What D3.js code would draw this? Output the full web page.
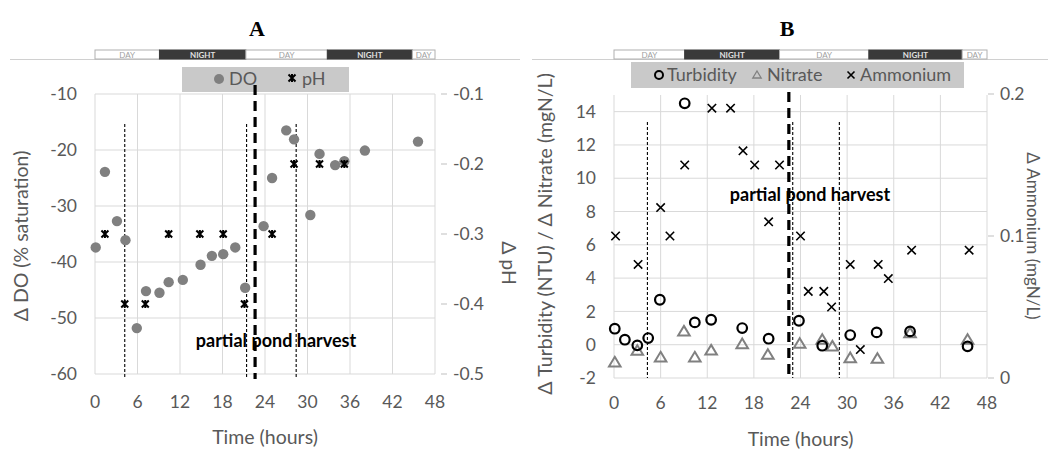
<!DOCTYPE html>
<html>
<head>
<meta charset="utf-8">
<script src="https://cdn.jsdelivr.net/npm/d3@7"></script>
<style>
  body { margin: 0; background: #fff; }
  svg text { font-family: Lato, "Open Sans", sans-serif; fill: #595959; }
</style>
</head>
<body>
<svg id="chart" width="1048" height="450"></svg>
<script>
// ---- data ----
const periodLabels = ['DAY', 'NIGHT', 'DAY', 'NIGHT', 'DAY'];
const periodStart = [0, 9.1, 21.3, 32.8, 44.8];
const periodEnd = [9.1, 21.3, 32.8, 44.8, 48];

const timeTicks = [0, 6, 12, 18, 24, 30, 36, 42, 48];

// panel A
const doTime = [0.1, 1.4, 3.1, 4.3, 5.9, 7.2, 9.1, 10.4, 12.4, 14.9, 16.5, 18.1, 19.8, 21.2, 23.8, 25.0, 27.0, 28.1, 30.4, 31.7, 33.9, 35.2, 38.1, 45.6];
const doValue = [-37.4, -23.9, -32.7, -36.1, -51.8, -45.2, -45.5, -43.6, -43.2, -40.5, -38.9, -38.6, -37.4, -44.6, -33.6, -25.0, -16.5, -18.1, -31.6, -20.7, -22.7, -22.0, -20.1, -18.5];
const phTime = [1.4, 4.2, 7.1, 10.4, 14.8, 18.1, 21.1, 25.0, 28.1, 31.7, 35.2];
const phValue = [-0.3, -0.4, -0.4, -0.3, -0.3, -0.3, -0.4, -0.3, -0.2, -0.2, -0.2];
const doTicks = [-60, -50, -40, -30, -20, -10];
const phTicks = [-0.5, -0.4, -0.3, -0.2, -0.1];
const samplingA = [4.2, 21.4, 28.4];
const harvestA = 22.6;

// panel B
const turbTime = [0.1, 1.4, 3.0, 4.4, 5.9, 9.1, 10.4, 12.5, 16.5, 19.9, 23.8, 26.8, 30.4, 33.8, 38.1, 45.5];
const turbValue = [0.96, 0.3, -0.04, 0.4, 2.7, 14.5, 1.34, 1.5, 1.0, 0.36, 1.44, -0.06, 0.58, 0.74, 0.8, -0.1];
const nitTime = [0.1, 3.0, 6.0, 9.0, 10.4, 12.5, 16.5, 19.8, 23.9, 26.8, 28.1, 30.4, 33.9, 38.1, 45.5];
const nitValue = [-1.06, -0.36, -0.76, 0.8, -0.76, -0.34, 0.04, -0.6, 0.06, 0.3, -0.1, -0.8, -0.84, 0.7, 0.3];
const ammTime = [0.2, 3.1, 6.0, 7.2, 9.1, 12.6, 15.0, 16.6, 18.1, 19.9, 21.3, 24.0, 25.0, 27.0, 28.0, 30.4, 31.7, 34.0, 35.3, 38.3, 45.7];
const ammValue = [0.100, 0.080, 0.120, 0.100, 0.150, 0.190, 0.190, 0.160, 0.150, 0.110, 0.150, 0.100, 0.061, 0.061, 0.050, 0.080, 0.020, 0.080, 0.070, 0.090, 0.090];
const leftTicksB = [-2, 0, 2, 4, 6, 8, 10, 12, 14];
const ammTicks = [0, 0.1, 0.2];
const samplingB = [4.3, 23.0, 29.0];
const harvestB = 22.5;

const svg = d3.select('#chart');
const grid = '#d9d9d9';
const grey = '#808080';

// Shared pieces for both panels
function dayNightBar(x, y0, y1) {
    let g = svg.append('g').attr('class', 'daynight');
    periodLabels.forEach((lab, i) => {
        let night = lab === 'NIGHT';
        g.append('rect')
            .attr('x', x(periodStart[i])).attr('y', y0)
            .attr('width', x(periodEnd[i]) - x(periodStart[i])).attr('height', y1 - y0)
            .attr('fill', night ? '#3a3a3a' : '#fff')
            .attr('stroke', night ? '#3a3a3a' : '#b0b0b0').attr('stroke-width', 1);
        g.append('text')
            .attr('x', (x(periodStart[i]) + x(periodEnd[i])) / 2).attr('y', y1 - 1.5)
            .attr('text-anchor', 'middle')
            .style('font-size', '8px')
            .style('font-weight', night ? 'bold' : 'normal')
            .style('fill', night ? '#e0e0e0' : '#a0a0a0')
            .text(lab);
    });
}

function gridAndAxes(x, yL, leftTicks, yR, rightTicks, opt) {
    let g = svg.append('g');
    // vertical gridlines
    g.selectAll('line.vg').data(timeTicks).enter().append('line')
        .attr('x1', d => x(d)).attr('x2', d => x(d))
        .attr('y1', yL.range()[1]).attr('y2', yL.range()[0])
        .attr('stroke', grid);
    // horizontal gridlines
    g.selectAll('line.hg').data(leftTicks).enter().append('line')
        .attr('x1', x(0)).attr('x2', x(48))
        .attr('y1', d => yL(d)).attr('y2', d => yL(d))
        .attr('stroke', grid);

    // left tick labels
    g.selectAll('text.yl').data(leftTicks).enter().append('text')
        .attr('x', x(0) - opt.leftGap).attr('y', d => yL(d)).attr('dy', '0.35em')
        .attr('text-anchor', 'end').style('font-size', '17.5px')
        .text(d => d);

    // right axis ticks + labels
    g.selectAll('line.rt').data(rightTicks).enter().append('line')
        .attr('x1', opt.rightTick).attr('x2', opt.rightTick + 6)
        .attr('y1', d => yR(d)).attr('y2', d => yR(d))
        .attr('stroke', '#bfbfbf');
    g.selectAll('text.yr').data(rightTicks).enter().append('text')
        .attr('x', opt.rightLabel).attr('y', d => yR(d)).attr('dy', '0.35em')
        .style('font-size', '17.5px')
        .text(d => d);

    // bottom tick labels
    g.selectAll('text.xt').data(timeTicks).enter().append('text')
        .attr('x', d => x(d)).attr('y', opt.xLabelY)
        .attr('text-anchor', 'middle').style('font-size', '17.5px')
        .text(d => d);

    g.append('text')
        .attr('x', (x(0) + x(48)) / 2).attr('y', opt.xTitleY)
        .attr('text-anchor', 'middle').style('font-size', '19.5px')
        .text('Time (hours)');
}

function vLines(x, times, y0, y1, thick) {
    svg.append('g').selectAll('line').data(times).enter().append('line')
        .attr('x1', d => x(d)).attr('x2', d => x(d))
        .attr('y1', y0).attr('y2', y1)
        .attr('stroke', '#000')
        .attr('stroke-width', thick ? 3.2 : 1.1)
        .attr('stroke-dasharray', thick ? '10,6' : '3,2');
}

function harvestLabel(x, y) {
    svg.append('text')
        .attr('x', x).attr('y', y)
        .attr('text-anchor', 'middle')
        .style('font-size', '18px').style('font-weight', 'bold').style('fill', '#000')
        .text('partial pond harvest');
}

const starPath = s => `M${-s},${-s}L${s},${s}M${-s},${s}L${s},${-s}M0,${-s - 0.5}L0,${s + 0.5}`;
const crossPath = s => `M${-s},${-s}L${s},${s}M${-s},${s}L${s},${-s}`;
const triPath = s => `M0,${-s}L${s * 1.05},${s * 0.75}L${-s * 1.05},${s * 0.75}Z`;

// ===================== Panel A =====================
const xA = d3.scaleLinear().domain([0, 48]).range([95, 435]);
const yA = d3.scaleLinear().domain([-60, -10]).range([374, 94]);
const yA2 = d3.scaleLinear().domain([-0.5, -0.1]).range([374, 94]);

svg.append('line').attr('x1', 10).attr('x2', 520).attr('y1', 59.5).attr('y2', 59.5).attr('stroke', '#d0d0d0');
svg.append('text').attr('x', 257).attr('y', 36).attr('text-anchor', 'middle')
    .style('font-family', '"Liberation Serif", serif').style('font-size', '22px')
    .style('font-weight', 'bold').style('fill', '#000').text('A');
dayNightBar(xA, 50, 59);

gridAndAxes(xA, yA, doTicks, yA2, phTicks, { leftGap: 18, rightTick: 441, rightLabel: 453, xLabelY: 408, xTitleY: 444 });

svg.append('text')
    .attr('transform', `translate(28,236) rotate(-90)`)
    .attr('text-anchor', 'middle').style('font-size', '19.5px')
    .text('Δ DO (% saturation)');
svg.append('text')
    .attr('transform', `translate(502,263) rotate(90)`)
    .attr('text-anchor', 'middle').style('font-size', '19.5px')
    .text('Δ pH');

// legend A
svg.append('rect').attr('x', 182).attr('y', 67).attr('width', 167).attr('height', 25).attr('fill', '#c9c9c9');
svg.append('circle').attr('cx', 219).attr('cy', 79).attr('r', 5).attr('fill', grey);
svg.append('text').attr('x', 229).attr('y', 85).style('font-size', '18px').text('DO');
svg.append('path').attr('d', starPath(3.5)).attr('transform', 'translate(292,78)')
    .attr('stroke', '#000').attr('stroke-width', 2).attr('fill', 'none');
svg.append('text').attr('x', 302).attr('y', 85).style('font-size', '18px').text('pH');

harvestLabel(276, 347);
vLines(xA, samplingA, 124, 377, false);
vLines(xA, [harvestA], 85, 379, true);

svg.append('g').selectAll('circle').data(doTime).enter().append('circle')
    .attr('cx', d => xA(d)).attr('cy', (d, i) => yA(doValue[i]))
    .attr('r', 5.2).attr('fill', grey);
svg.append('g').selectAll('path').data(phTime).enter().append('path')
    .attr('d', starPath(3.5))
    .attr('transform', (d, i) => `translate(${xA(d)},${yA2(phValue[i])})`)
    .attr('stroke', '#000').attr('stroke-width', 2).attr('fill', 'none');

// ===================== Panel B =====================
const xB = d3.scaleLinear().domain([0, 48]).range([614, 987]);
const yB = d3.scaleLinear().domain([-2, 15]).range([378, 95]);
const yB2 = d3.scaleLinear().domain([0, 0.2]).range([378, 94]);

svg.append('line').attr('x1', 532).attr('x2', 1048).attr('y1', 59.5).attr('y2', 59.5).attr('stroke', '#d0d0d0');
svg.append('text').attr('x', 787).attr('y', 36).attr('text-anchor', 'middle')
    .style('font-family', '"Liberation Serif", serif').style('font-size', '22px')
    .style('font-weight', 'bold').style('fill', '#000').text('B');
dayNightBar(xB, 50, 59);

gridAndAxes(xB, yB, leftTicksB, yB2, ammTicks, { leftGap: 18, rightTick: 988, rightLabel: 1000, xLabelY: 409, xTitleY: 446 });

svg.append('text')
    .attr('transform', `translate(552,234) rotate(-90)`)
    .attr('text-anchor', 'middle').style('font-size', '19.5px')
    .text('Δ Turbidity (NTU) / Δ Nitrate (mgN/L)');
svg.append('text')
    .attr('transform', `translate(1027,236) rotate(90)`)
    .attr('text-anchor', 'middle').style('font-size', '17px')
    .text('Δ Ammonium (mgN/L)');

// legend B
svg.append('rect').attr('x', 631).attr('y', 62).attr('width', 333).attr('height', 26).attr('fill', '#c9c9c9');
svg.append('circle').attr('cx', 659).attr('cy', 75).attr('r', 4).attr('fill', 'none').attr('stroke', '#000').attr('stroke-width', 2);
svg.append('text').attr('x', 667).attr('y', 81).style('font-size', '18px').text('Turbidity');
svg.append('path').attr('d', triPath(4)).attr('transform', 'translate(757,75)')
    .attr('fill', 'none').attr('stroke', grey).attr('stroke-width', 1.3);
svg.append('text').attr('x', 767).attr('y', 81).style('font-size', '18px').text('Nitrate');
svg.append('path').attr('d', crossPath(3.5)).attr('transform', 'translate(851,75)')
    .attr('stroke', '#000').attr('stroke-width', 1.6);
svg.append('text').attr('x', 860).attr('y', 81).style('font-size', '18px').text('Ammonium');

harvestLabel(810, 201);
vLines(xB, samplingB, 122, 378, false);
vLines(xB, [harvestB], 92, 375, true);

svg.append('g').selectAll('path').data(nitTime).enter().append('path')
    .attr('d', triPath(5.5))
    .attr('transform', (d, i) => `translate(${xB(d)},${yB(nitValue[i])})`)
    .attr('fill', 'none').attr('stroke', grey).attr('stroke-width', 2);
svg.append('g').selectAll('circle').data(turbTime).enter().append('circle')
    .attr('cx', d => xB(d)).attr('cy', (d, i) => yB(turbValue[i]))
    .attr('r', 4.8).attr('fill', 'none').attr('stroke', '#000').attr('stroke-width', 2.2);
svg.append('g').selectAll('path').data(ammTime).enter().append('path')
    .attr('d', crossPath(4.2))
    .attr('transform', (d, i) => `translate(${xB(d)},${yB2(ammValue[i])})`)
    .attr('stroke', '#000').attr('stroke-width', 1.6);
</script>
</body>
</html>
